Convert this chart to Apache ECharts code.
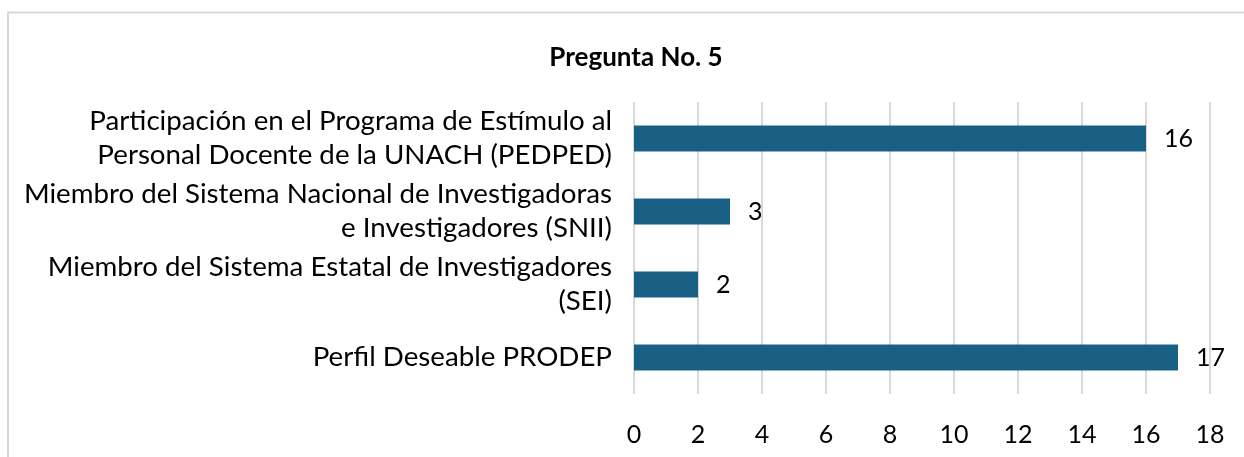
<!DOCTYPE html>
<html lang="es" style="height: 100%">

<head>
  <meta charset="utf-8" />
</head>

<body style="height: 100%; margin: 0; background: #fff">
  <div id="container" style="width: 1244px; height: 457px"></div>

  <script src="https://cdn.jsdelivr.net/npm/echarts@6/dist/echarts.min.js"></script>

  <script type="text/javascript">
    // data, top to bottom as shown
    var categories = [
      "Participación en el Programa de Estímulo al\nPersonal Docente de la UNACH (PEDPED)",
      "Miembro del Sistema Nacional de Investigadoras\ne Investigadores (SNII)",
      "Miembro del Sistema Estatal de Investigadores\n(SEI)",
      "Perfil Deseable PRODEP"
    ];
    var values = [16, 3, 2, 17];
    var titleText = "Pregunta No. 5";

    var font = "Lato, 'Open Sans', sans-serif";

    var dom = document.getElementById("container");
    var myChart = echarts.init(dom, null, { renderer: "canvas" });

    var option = {
      animation: false,
      title: {
        text: titleText,
        left: 631,
        top: 40,
        textAlign: "center",
        textStyle: {
          fontFamily: font,
          fontSize: 26,
          fontWeight: "bold",
          color: "#000"
        }
      },
      graphic: [
        {
          type: "rect",
          shape: { x: 8, y: 12.5, width: 1400, height: 600 },
          style: { fill: "none", stroke: "#d9d9d9", lineWidth: 2 },
          silent: true
        }
      ],
      grid: {
        left: 634,
        width: 576,
        top: 102,
        height: 292,
        containLabel: false
      },
      xAxis: {
        type: "value",
        min: 0,
        max: 18,
        interval: 2,
        axisLine: { show: false },
        axisTick: { show: false },
        splitLine: { lineStyle: { color: "#d9d9d9", width: 2 } },
        axisLabel: {
          margin: 28,
          fontFamily: font,
          fontSize: 25,
          color: "#000"
        }
      },
      yAxis: {
        type: "category",
        inverse: true,
        data: categories,
        axisLine: { show: false },
        axisTick: { show: false },
        axisLabel: {
          margin: 22,
          fontFamily: font,
          fontSize: 27.7,
          lineHeight: 34,
          align: "right",
          color: "#000"
        }
      },
      series: [
        {
          type: "bar",
          data: values,
          barWidth: 26,
          itemStyle: { color: "#1a6084" },
          label: {
            show: true,
            position: "right",
            distance: 18,
            fontFamily: font,
            fontSize: 25,
            color: "#000"
          }
        }
      ]
    };

    myChart.setOption(option);
    window.addEventListener("resize", myChart.resize);
  </script>
</body>

</html>
